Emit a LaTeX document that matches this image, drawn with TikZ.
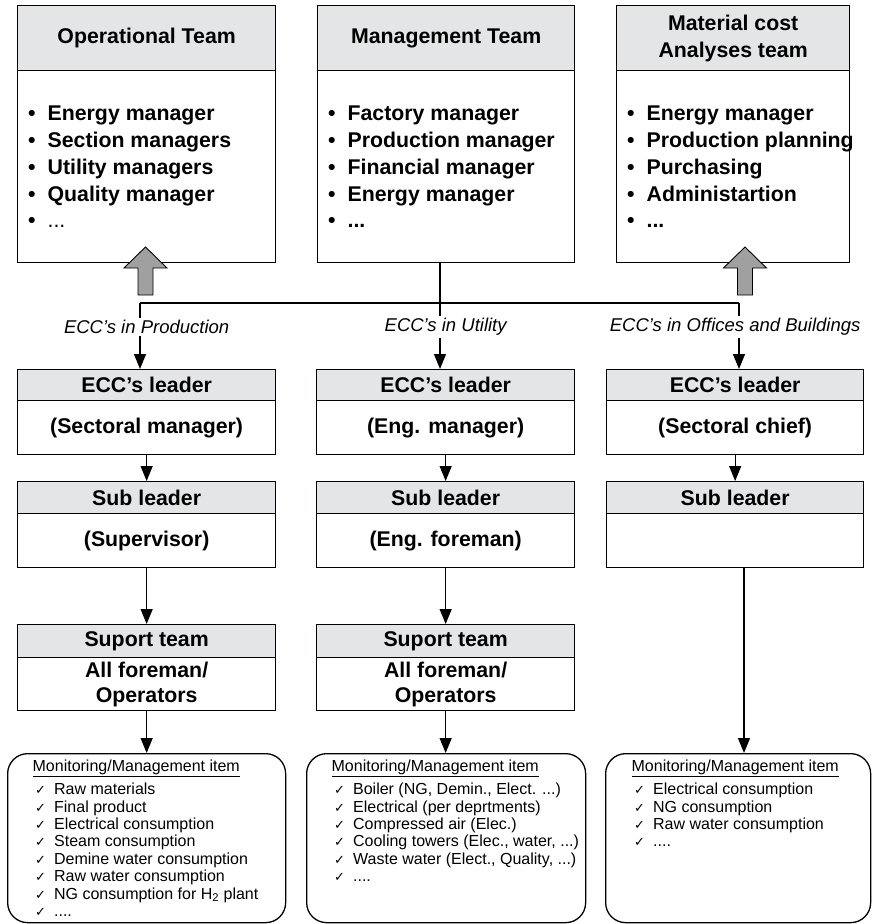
\documentclass[tikz,border=0pt]{standalone}
\usepackage{fontspec}
\setmainfont{Liberation Sans}
\newfontfamily\symfont{DejaVu Sans}
\usetikzlibrary{arrows.meta}

\definecolor{headgrey}{RGB}{228,229,230}
\definecolor{blockgrey}{RGB}{160,160,160}

\newcommand\boxfont{\fontsize{21.3}{26.7}\selectfont\bfseries}
\newcommand\monfont{\fontsize{16}{17.4}\selectfont}
\newcommand\lblfont{\fontsize{18.5}{22}\selectfont\itshape}
\newcommand\bul{\makebox[19.5pt][l]{\textbullet}}
\newcommand\chk{\hspace*{2.5pt}\makebox[19pt][l]{{\symfont\fontsize{13}{17.4}\selectfont ✓}}}

\begin{document}
\begin{tikzpicture}[x=1pt, y=-1pt, line width=1.3pt,
  head/.style={draw, fill=headgrey, anchor=north west, inner sep=0pt,
    font=\boxfont, align=center},
  body/.style={draw, fill=white, anchor=north west, inner sep=0pt,
    font=\boxfont, align=center},
  list/.style={anchor=west, inner sep=0pt, font=\boxfont, align=left},
  monbox/.style={draw, rounded corners=20pt, anchor=north west, inner sep=0pt},
  montext/.style={anchor=north west, inner sep=0pt, font=\monfont, align=left},
  lbl/.style={fill=white, inner sep=2pt, font=\lblfont},
  arr/.style={-{Triangle[length=15pt, width=12pt]}},
  blk/.style={draw, fill=blockgrey, line width=0.9pt, line join=miter}
]
\useasboundingbox (0,0) rectangle (876,924);

% ---------- top teams ----------
\node[body, minimum width=258pt, minimum height=192pt] (opB) at (17,70) {};
\node[head, minimum width=258pt, minimum height=65pt] (opH) at (17,5) {Operational Team};
\node[list] (opL) at (27.5,167) {\bul Energy manager\\ \bul Section managers\\
  \bul Utility managers\\ \bul Quality manager\\ \bul{\mdseries ...}};

\node[body, minimum width=257pt, minimum height=192pt] (mgB) at (317,70) {};
\node[head, minimum width=257pt, minimum height=65pt] (mgH) at (317,5) {Management Team};
\node[list] (mgL) at (327.5,167) {\bul Factory manager\\ \bul Production manager\\
  \bul Financial manager\\ \bul Energy manager\\ \bul ...};

\node[body, minimum width=233pt, minimum height=192pt] (maB) at (616,70) {};
\node[head, minimum width=233pt, minimum height=65pt] (maH) at (616,5) {Material cost\\ Analyses team};
\node[list] (maL) at (626.5,167) {\bul Energy manager\\ \bul Production planning\\
  \bul Purchasing\\ \bul Administartion\\ \bul ...};

% grey block arrows pointing up into the teams
\draw[blk] (138,295) -- (138,268) -- (124,268) -- (145.5,247) -- (167,268)
  -- (153,268) -- (153,295) -- cycle;
\draw[blk] (737.5,295) -- (737.5,268) -- (723.5,268) -- (745,247) -- (766.5,268)
  -- (752.5,268) -- (752.5,295) -- cycle;

% ---------- ECC leaders ----------
\node[body, minimum width=258pt, minimum height=54pt] (eccAB) at (17,400) {(Sectoral manager)};
\node[head, minimum width=258pt, minimum height=31pt] (eccAH) at (17,369) {ECC’s leader};
\node[body, minimum width=258pt, minimum height=54pt] (eccBB) at (316,400) {(Eng. manager)};
\node[head, minimum width=258pt, minimum height=31pt] (eccBH) at (316,369) {ECC’s leader};
\node[body, minimum width=257pt, minimum height=54pt] (eccCB) at (606,400) {(Sectoral chief)};
\node[head, minimum width=257pt, minimum height=31pt] (eccCH) at (606,369) {ECC’s leader};

% ---------- sub leaders ----------
\node[body, minimum width=258pt, minimum height=54pt] (subAB) at (17,513) {(Supervisor)};
\node[head, minimum width=258pt, minimum height=32pt] (subAH) at (17,481) {Sub leader};
\node[body, minimum width=258pt, minimum height=54pt] (subBB) at (316,513) {(Eng. foreman)};
\node[head, minimum width=258pt, minimum height=32pt] (subBH) at (316,481) {Sub leader};
\node[body, minimum width=257pt, minimum height=54pt] (subCB) at (606,513) {};
\node[head, minimum width=257pt, minimum height=32pt] (subCH) at (606,481) {Sub leader};

% ---------- support teams ----------
\node[body, minimum width=258pt, minimum height=53pt, font=\fontsize{21.3}{25}\selectfont\bfseries]
  (supAB) at (17,657) {All foreman/\\ Operators};
\node[head, minimum width=258pt, minimum height=33pt] (supAH) at (17,624) {Suport team};
\node[body, minimum width=258pt, minimum height=53pt, font=\fontsize{21.3}{25}\selectfont\bfseries]
  (supBB) at (316,657) {All foreman/\\ Operators};
\node[head, minimum width=258pt, minimum height=33pt] (supBH) at (316,624) {Suport team};

% ---------- monitoring items ----------
\node[monbox, minimum width=278pt, minimum height=169pt] (mon1) at (7,753) {};
\node[montext] (mon1T) at (32,759) {\underline{Monitoring/Management item}\\[6pt]
  \chk Raw materials\\ \chk Final product\\ \chk Electrical consumption\\
  \chk Steam consumption\\ \chk Demine water consumption\\ \chk Raw water consumption\\
  \chk NG consumption for H\textsubscript{2} plant\\ \chk ....};

\node[monbox, minimum width=279pt, minimum height=169pt] (mon2) at (306,753) {};
\node[montext] (mon2T) at (331,759) {\underline{Monitoring/Management item}\\[6pt]
  \chk Boiler (NG, Demin., Elect. ...)\\ \chk Electrical (per deprtments)\\
  \chk Compressed air (Elec.)\\ \chk Cooling towers (Elec., water, ...)\\
  \chk Waste water (Elect., Quality, ...)\\ \chk ....};

\node[monbox, minimum width=265pt, minimum height=169pt] (mon3) at (605,753) {};
\node[montext] (mon3T) at (631,759) {\underline{Monitoring/Management item}\\[6pt]
  \chk Electrical consumption\\ \chk NG consumption\\ \chk Raw water consumption\\
  \chk ....};

% ---------- connectors ----------
\coordinate (bus) at (440,303);
\coordinate (busL) at (140,303);
\coordinate (busR) at (739,303);
\coordinate (cdrop) at (744,0);
\draw (bus |- mgB.south) -- (bus);
\draw (busL) -- (busR);
\draw[arr] (busL) -- (busL |- eccAH.north);
\draw[arr] (bus) -- (bus |- eccBH.north);
\draw[arr] (busR) -- (busR |- eccCH.north);

\node[lbl] (labA) at ([yshift=42pt]eccAH.north) {ECC’s in Production};
\node[lbl] (labB) at ([yshift=42pt]eccBH.north) {ECC’s in Utility};
\node[lbl] (labC) at ([yshift=42pt]eccCH.north) {ECC’s in Offices and Buildings};

\draw[arr] (eccAB.south) -- (subAH.north);
\draw[arr] (eccBB.south) -- (subBH.north);
\draw[arr] (eccCB.south) -- (subCH.north);
\draw[arr] (subAB.south) -- (supAH.north);
\draw[arr] (subBB.south) -- (supBH.north);
\draw[arr] (supAB.south) -- (supAB.south |- mon1.north);
\draw[arr] (supBB.south) -- (supBB.south |- mon2.north);
\draw[arr] (subCB.south -| cdrop) -- (mon3.north -| cdrop);
\end{tikzpicture}
\end{document}
